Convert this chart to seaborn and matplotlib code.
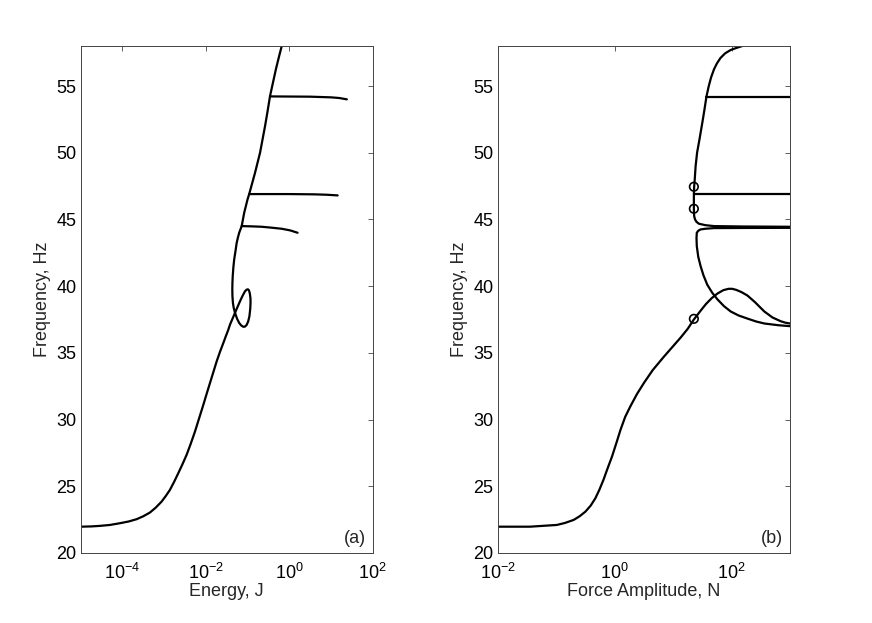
import numpy as np
import pandas as pd
import matplotlib
matplotlib.use("Agg")
import matplotlib.pyplot as plt
from matplotlib.ticker import FixedLocator, LogFormatterSciNotation, NullLocator
import seaborn as sns

# ---------------- data (log10 of x, frequency in Hz) ----------------
# Panel (a): Energy, J
energy_main_log10 = [-5.0, -4.75, -4.54, -4.3, -4.06, -3.85, -3.66, -3.5, -3.34, -3.2,
                     -3.06, -2.96, -2.86, -2.76, -2.66, -2.56, -2.46, -2.36, -2.26, -2.16,
                     -2.06, -1.98, -1.90, -1.82, -1.74, -1.66, -1.58, -1.52, -1.46, -1.42,
                     -1.36, -1.30, -1.24, -1.18, -1.12, -1.06, -1.02, -0.99, -0.965, -0.945,
                     -0.93, -0.928, -0.935, -0.955, -0.985, -1.02, -1.06, -1.10, -1.15, -1.20,
                     -1.25, -1.30, -1.33, -1.35, -1.362, -1.365, -1.362, -1.355, -1.34, -1.32,
                     -1.29, -1.26, -1.23, -1.20, -1.17, -1.14, -1.11, -1.08, -1.04, -1.0,
                     -0.96, -0.89, -0.82, -0.76, -0.70, -0.64, -0.58, -0.52, -0.46, -0.39,
                     -0.32, -0.25, -0.18, -0.15]
freq_main_a = [21.97, 21.99, 22.03, 22.1, 22.23, 22.36, 22.53, 22.75, 23.03, 23.4,
               23.85, 24.27, 24.73, 25.33, 25.98, 26.65, 27.36, 28.2, 29.1, 30.1,
               31.1, 31.93, 32.74, 33.55, 34.36, 35.08, 35.74, 36.25, 36.74, 37.12,
               37.56, 38.0, 38.44, 38.87, 39.27, 39.62, 39.74, 39.76, 39.68, 39.45,
               39.1, 38.75, 38.3, 37.74, 37.35, 37.1, 36.97, 36.95, 37.05, 37.24,
               37.55, 38.0, 38.35, 38.74, 39.25, 39.75, 40.25, 40.74, 41.4, 42.0,
               42.6, 43.25, 43.65, 44.0, 44.25, 44.5, 45.0, 45.5, 46.0, 46.5,
               46.9, 47.7, 48.5, 49.25, 50.0, 51.0, 52.0, 53.1, 54.26, 55.26,
               56.26, 57.15, 58.0, 58.3]

energy_b1_log10 = [-1.14, -0.9, -0.66, -0.42, -0.18, 0.02, 0.20]
freq_b1_a = [44.5, 44.48, 44.45, 44.38, 44.3, 44.18, 44.0]
energy_b2_log10 = [-0.96, 0.0, 0.6, 0.9, 1.16]
freq_b2_a = [46.9, 46.9, 46.88, 46.85, 46.8]
energy_b3_log10 = [-0.46, 0.5, 1.0, 1.2, 1.38]
freq_b3_a = [54.22, 54.2, 54.15, 54.1, 54.0]

# Panel (b): Force Amplitude, N
force_main_log10 = [-2.0, -1.45, -0.99, -0.85, -0.70, -0.60, -0.50, -0.41, -0.33, -0.26,
                    -0.19, -0.12, -0.045, 0.03, 0.10, 0.18, 0.27, 0.38, 0.50, 0.65,
                    0.84, 1.0, 1.13, 1.25, 1.355, 1.46, 1.56, 1.66, 1.76, 1.86,
                    1.95, 2.01, 2.08, 2.17, 2.27, 2.40, 2.56, 2.70, 2.84, 2.92, 3.0]
freq_main_b = [21.97, 21.97, 22.1, 22.25, 22.48, 22.75, 23.1, 23.55, 24.1, 24.75,
               25.5, 26.35, 27.23, 28.25, 29.23, 30.2, 31.0, 31.9, 32.74, 33.7,
               34.7, 35.5, 36.15, 36.8, 37.5, 38.1, 38.65, 39.1, 39.45, 39.7,
               39.8, 39.8, 39.72, 39.55, 39.3, 38.8, 38.1, 37.65, 37.37, 37.26, 37.2]

force_upper_log10 = [2.3, 2.185, 2.08, 1.985, 1.89, 1.81, 1.75, 1.70, 1.65, 1.61,
                     1.57, 1.535, 1.50, 1.455, 1.41, 1.385, 1.37, 1.36, 1.355, 1.355,
                     1.36, 1.375, 1.40, 1.44, 1.55, 1.70, 2.2, 3.0]
freq_upper_b = [58.2, 58.0, 57.85, 57.7, 57.45, 57.1, 56.7, 56.26, 55.65, 55.0,
                54.2, 53.2, 52.26, 51.1, 50.0, 49.0, 48.0, 47.45, 46.9, 45.8,
                45.25, 45.0, 44.82, 44.68, 44.57, 44.5, 44.47, 44.45]

force_lower_log10 = [3.0, 2.2, 1.70, 1.55, 1.47, 1.43, 1.405, 1.40, 1.405, 1.43,
                     1.47, 1.52, 1.585, 1.67, 1.76, 1.87, 1.985, 2.12, 2.27, 2.42,
                     2.56, 2.8, 3.0]
freq_lower_b = [44.37, 44.36, 44.35, 44.3, 44.25, 44.15, 44.0, 43.6, 43.0, 42.2,
                41.5, 40.8, 40.1, 39.5, 39.0, 38.5, 38.1, 37.8, 37.57, 37.35,
                37.2, 37.07, 37.0]

force_h1_log10 = [1.57, 3.0]
freq_h1_b = [54.21, 54.21]
force_h2_log10 = [1.355, 3.0]
freq_h2_b = [46.88, 46.88]

marker_force_log10 = [1.355, 1.355, 1.355]
marker_freq = [37.55, 45.8, 47.45]

yticks = [20, 25, 30, 35, 40, 45, 50, 55]
xticks_a = [1e-4, 1e-2, 1e0, 1e2]
xticks_b = [1e-2, 1e0, 1e2]

# ---------------- style ----------------
sns.set_style("white")
plt.rcParams['font.family'] = ['Liberation Sans', 'DejaVu Sans']
plt.rcParams['mathtext.fontset'] = 'custom'
plt.rcParams['mathtext.rm'] = 'Liberation Sans'
plt.rcParams['mathtext.it'] = 'Liberation Sans:italic'
plt.rcParams['mathtext.bf'] = 'Liberation Sans:bold'
plt.rcParams['mathtext.default'] = 'regular'

fig = plt.figure(figsize=(8.72, 6.23), dpi=100)
ax1 = fig.add_axes([0.0925, 0.1124, 0.3349, 0.8138])
ax2 = fig.add_axes([0.5708, 0.1124, 0.3352, 0.8138])

LW = 1.6
FS = 13

def draw(ax, xlog, y):
    df = pd.DataFrame({"x": np.power(10.0, xlog), "y": y})
    sns.lineplot(data=df, x="x", y="y", sort=False, estimator=None,
                 color="black", linewidth=LW, ax=ax)

for xl, yv in [(energy_main_log10, freq_main_a), (energy_b1_log10, freq_b1_a),
               (energy_b2_log10, freq_b2_a), (energy_b3_log10, freq_b3_a)]:
    draw(ax1, xl, yv)

for xl, yv in [(force_main_log10, freq_main_b), (force_upper_log10, freq_upper_b),
               (force_lower_log10, freq_lower_b), (force_h1_log10, freq_h1_b),
               (force_h2_log10, freq_h2_b)]:
    draw(ax2, xl, yv)

mdf = pd.DataFrame({"x": np.power(10.0, marker_force_log10), "y": marker_freq})
sns.scatterplot(data=mdf, x="x", y="y", ax=ax2, marker="o", s=38,
                facecolor="none", edgecolor="black", linewidth=1.2, zorder=5)

for ax, xlim, xt, xlabel, tag in [
        (ax1, (1e-5, 1e2), xticks_a, "Energy, J", "(a)"),
        (ax2, (1e-2, 1e3), xticks_b, "Force Amplitude, N", "(b)")]:
    ax.set_xscale("log")
    ax.set_xlim(*xlim)
    ax.set_ylim(20, 58)
    ax.xaxis.set_major_locator(FixedLocator(xt))
    ax.xaxis.set_major_formatter(LogFormatterSciNotation())
    ax.xaxis.set_minor_locator(NullLocator())
    ax.set_yticks(yticks)
    ax.tick_params(direction="in", length=3.6, width=0.6, color="#444444",
                   top=True, right=True, labelsize=FS, labelcolor="black", pad=3)
    ax.tick_params(axis="x", pad=7)
    for sp in ax.spines.values():
        sp.set_color("#444444")
        sp.set_linewidth(0.7)
    ax.set_xlabel(xlabel, fontsize=FS, labelpad=0)
    ax.set_ylabel("Frequency, Hz", fontsize=FS, labelpad=4)
    ax.text(0.977, 0.028, tag, transform=ax.transAxes, ha="right", va="center",
            fontsize=FS)

fig.savefig("out.png", dpi=100)
